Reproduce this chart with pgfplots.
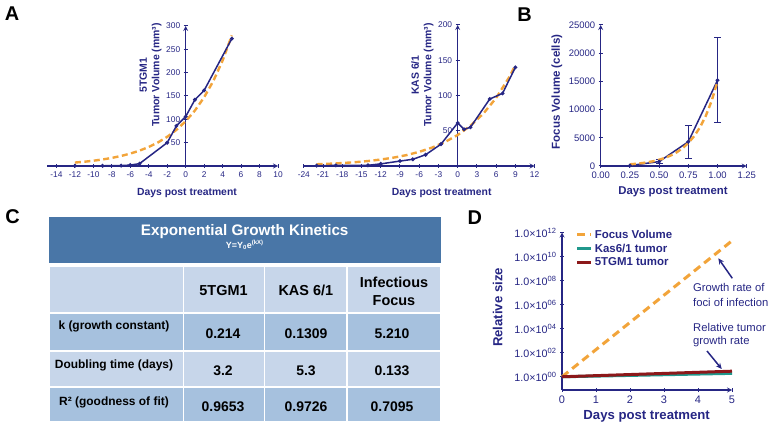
\documentclass[border=0pt]{standalone}
\usepackage{fontspec}
\setmainfont{Liberation Sans}
\usepackage{pgfplots}
\pgfplotsset{compat=1.18}
\usetikzlibrary{arrows.meta}
\definecolor{navy}{RGB}{38,38,132}
\definecolor{orng}{RGB}{242,164,58}
\definecolor{tealc}{RGB}{32,152,140}
\definecolor{dred}{RGB}{140,24,26}
\definecolor{hdr}{RGB}{73,118,167}
\definecolor{rowL}{RGB}{199,214,234}
\definecolor{rowD}{RGB}{166,193,222}
\pgfplotsset{
  gp/.style={scale only axis, clip=false,
    axis line style={navy, line width=1.2bp, -},
    tick style={navy, line width=1bp},
    major tick length=4bp, minor tick length=2.5bp, tick align=outside,
    ticklabel style={navy},
    /pgf/number format/assume math mode=true,
    scaled ticks=false,
    every axis label/.append style={text=navy},
  },
  fitd/.style={orng, line width=2.4bp, dash pattern=on 6bp off 3.5bp},
  datl/.style={navy, line width=1.5bp, mark=*, mark size=1.1bp},
}
\begin{document}
\begin{tikzpicture}[x=1bp,y=1bp]
\path[use as bounding box] (0,0) rectangle (776,432);

% ---------------- Panel A left: 5TGM1
\begin{axis}[gp, at={(47.2bp,266bp)}, anchor=south west, width=230.8bp, height=140bp,
  xmin=-15, xmax=10, ymin=0, ymax=300, axis lines=middle,
  hide obscured x ticks=false, hide obscured y ticks=false,
  xtick={-14,-12,...,10}, ytick={50,100,...,300},
  xticklabel style={font=\fontsize{8.4}{10}\selectfont, text=navy},
  yticklabel style={font=\fontsize{8.4}{10}\selectfont, text=navy},
  xlabel={Days post treatment},
  xlabel style={at={(axis description cs:0.6057,-0.19)}, anchor=center, font=\fontsize{10.4}{12}\selectfont\bfseries},
  ylabel={5TGM1\\Tumor Volume (mm³)},
  ylabel style={at={(axis description cs:0.4476,0.65)}, rotate=90, anchor=center, align=center, font=\fontsize{10.5}{12.5}\selectfont\bfseries}]
\addplot[fitd] coordinates {(-12,7.36) (-11,9.1) (-10,11.3) (-9,14.0) (-8,17.3) (-7,21.5) (-6,26.6) (-5,32.9) (-4,40.8) (-3,50.5) (-2,62.6) (-1,77.5) (0,96) (1,118.9) (2,147.3) (3,182.4) (4,226.0) (5,279.9)};
\addplot[datl] coordinates {(-12,0.5) (-9,0.5) (-7,0.8) (-6,2) (-5,5) (-2,50) (-1,86) (0,106) (1,142) (2,162) (5,273)};
\end{axis}

% ---------------- Panel A right: KAS 6/1
\begin{axis}[gp, at={(303.8bp,266bp)}, anchor=south west, width=230.8bp, height=141bp,
  xmin=-24, xmax=12, ymin=0, ymax=200, axis lines=middle,
  hide obscured x ticks=false, hide obscured y ticks=false,
  xtick={-24,-21,...,12}, ytick={50,100,...,200},
  xticklabel style={font=\fontsize{8.4}{10}\selectfont, text=navy},
  yticklabel style={font=\fontsize{8.4}{10}\selectfont, text=navy},
  xlabel={Days post treatment},
  xlabel style={at={(axis description cs:0.5975,-0.19)}, anchor=center, font=\fontsize{10.4}{12}\selectfont\bfseries},
  ylabel={KAS 6/1\\Tumor Volume (mm³)},
  ylabel style={at={(axis description cs:0.514,0.645)}, rotate=90, anchor=center, align=center, font=\fontsize{10.5}{12.5}\selectfont\bfseries}]
\addplot[fitd] coordinates {(-22,2.47) (-20,3.21) (-18,4.17) (-16,5.42) (-14,7.04) (-12,9.15) (-10,11.9) (-8,15.4) (-6,20.1) (-4,26.1) (-2,33.9) (0,44) (2,57.2) (4,74.3) (6,96.5) (8,125.4) (9,142.9)};
\addplot[datl] coordinates {(-22,0.5) (-19,0.8) (-14,1) (-12,3) (-9,7) (-7,9.5) (-5,16) (-2.6,31) (0,61) (1,52) (2,55) (5,95) (7,103) (9,140)};
\end{axis}

% ---------------- Panel B: focus volume
\begin{axis}[gp, at={(600.7bp,266bp)}, anchor=south west, width=146bp, height=141bp,
  xmin=0, xmax=1.25, ymin=0, ymax=25000, axis x line=bottom, axis y line=left,
  xtick={0,0.25,0.5,0.75,1,1.25}, xticklabels={0.00,0.25,0.50,0.75,1.00,1.25},
  ytick={0,5000,10000,15000,20000,25000}, yticklabels={0,5000,10000,15000,20000,25000},
  ticklabel style={font=\fontsize{9.5}{11}\selectfont},
  xlabel={Days post treatment},
  xlabel style={at={(axis description cs:0.495,-0.184)}, anchor=center, font=\fontsize{11.4}{13}\selectfont\bfseries},
  ylabel={Focus Volume (cells)},
  ylabel style={at={(axis description cs:-0.30,0.525)}, rotate=0, anchor=center, font=\fontsize{11.6}{13}\selectfont\bfseries}]
\addplot[datl, error bars/.cd, y dir=both, y explicit,
  error bar style={navy, line width=0.9bp},
  error mark options={rotate=90, mark size=3.5bp, navy, line width=0.9bp}]
  coordinates {(0.25,80) +- (0,40) (0.5,780) +- (0,350) (0.75,4300) +- (0,2950) (1.0,15200) +- (0,7550)};
\addplot[fitd] coordinates {(0.25,301) (0.3,391) (0.35,507) (0.4,658) (0.45,854) (0.5,1108) (0.55,1438) (0.6,1866) (0.65,2421) (0.7,3142) (0.75,4076) (0.8,5291) (0.85,6863) (0.9,8905) (0.95,11557) (1.0,15000)};
\end{axis}

% ---------------- Panel D: relative size
\begin{axis}[gp, at={(562bp,42bp)}, anchor=south west, width=170bp, height=157.5bp,
  xmin=0, xmax=5, ymode=log, ymin=0.0794, ymax=1e12,
  axis x line=bottom, axis y line=left,
  xtick={0,1,2,3,4,5},
  ytick={1,1e2,1e4,1e6,1e8,1e10,1e12},
  yticklabels={1.0×10\textsuperscript{00},1.0×10\textsuperscript{02},1.0×10\textsuperscript{04},1.0×10\textsuperscript{06},1.0×10\textsuperscript{08},1.0×10\textsuperscript{10},1.0×10\textsuperscript{12}},
  minor ytick={1e-1,1e1,1e3,1e5,1e7,1e9,1e11},
  xticklabel style={font=\fontsize{11}{12}\selectfont},
  yticklabel style={font=\fontsize{10.8}{12}\selectfont},
  xlabel={Days post treatment},
  xlabel style={at={(axis description cs:0.498,-0.17)}, anchor=center, font=\fontsize{13.2}{15}\selectfont\bfseries},
  ylabel={Relative size},
  ylabel style={at={(axis description cs:-0.379,0.524)}, rotate=0, anchor=center, font=\fontsize{13.2}{15}\selectfont\bfseries},
  legend style={at={(0.08,1.03)}, anchor=north west, draw=none, fill=none,
    font=\fontsize{11.5}{13}\selectfont\bfseries, text=navy, inner sep=0pt,
    /tikz/every even column/.append style={column sep=4bp}},
  legend cell align=left,
  legend image code/.code={\draw[#1] (0bp,0bp) -- (14bp,0bp);}]
\addplot[orng, line width=3bp, dash pattern=on 8bp off 5bp] coordinates {(0,1) (5,2.05e11)};
\addlegendentry{Focus Volume}
\addplot[tealc, line width=3bp] coordinates {(0,1) (5,1.925)};
\addlegendentry{Kas6/1 tumor}
\addplot[dred, line width=3bp] coordinates {(0,1) (5,2.915)};
\addlegendentry{5TGM1 tumor}
\end{axis}

% annotations panel D
\draw[navy, line width=1.5bp, -{Stealth[length=6bp,width=5.5bp]}] (732.3,153.7) -- (718.3,173.7);
\draw[navy, line width=1.5bp, -{Stealth[length=6bp,width=5.5bp]}] (707,81) -- (721.7,63);
\begin{scope}[every node/.style={text=navy, font=\fontsize{11.3}{13}\selectfont, inner sep=0pt, anchor=base west}]
\node at (693,140.3) {Growth rate of};
\node at (693,125.3) {foci of infection};
\node at (693,101) {Relative tumor};
\node at (693,88) {growth rate};
\end{scope}

% ---------------- Panel C table
\fill[hdr] (49,215) rectangle (440.5,168.7);
\node[text=white, font=\fontsize{15.3}{17}\selectfont\bfseries] at (244.7,200.5) {Exponential Growth Kinetics};
\node[text=white, font=\fontsize{9}{10}\selectfont\bfseries] at (244.7,187) {Y=Y\textsubscript{0}e\textsuperscript{(kX)}};
\begin{scope}[every path/.style={draw=white, line width=1.6bp}]
\path[fill=rowL] (49,166.3) rectangle (183.3,119.3);
\path[fill=rowL] (183.3,166.3) rectangle (264.4,119.3);
\path[fill=rowL] (264.4,166.3) rectangle (347.2,119.3);
\path[fill=rowL] (347.2,166.3) rectangle (440.5,119.3);
\path[fill=rowD] (49,119.3) rectangle (183.3,81);
\path[fill=rowD] (183.3,119.3) rectangle (264.4,81);
\path[fill=rowD] (264.4,119.3) rectangle (347.2,81);
\path[fill=rowD] (347.2,119.3) rectangle (440.5,81);
\path[fill=rowL] (49,81) rectangle (183.3,45.3);
\path[fill=rowL] (183.3,81) rectangle (264.4,45.3);
\path[fill=rowL] (264.4,81) rectangle (347.2,45.3);
\path[fill=rowL] (347.2,81) rectangle (440.5,45.3);
\path[fill=rowD] (49,45.3) rectangle (183.3,10);
\path[fill=rowD] (183.3,45.3) rectangle (264.4,10);
\path[fill=rowD] (264.4,45.3) rectangle (347.2,10);
\path[fill=rowD] (347.2,45.3) rectangle (440.5,10);
\end{scope}
\begin{scope}[every node/.style={inner sep=0pt, font=\fontsize{14.5}{18}\selectfont\bfseries, align=center}]
\node at (223.5,141.1) {5TGM1};
\node at (305.8,141.1) {KAS 6/1};
\node at (394,141) {Infectious\\Focus};
\end{scope}
\begin{scope}[every node/.style={inner sep=0pt, font=\fontsize{12}{14}\selectfont\bfseries, text height=8.6bp, text depth=0bp}]
\node at (114,107.3) {k (growth constant)};
\node at (114,68) {Doubling time (days)};
\node at (114,31) {R² (goodness of fit)};
\end{scope}
\begin{scope}[every node/.style={inner sep=0pt, font=\fontsize{14}{16}\selectfont\bfseries, text height=10bp, text depth=0bp}]
\node at (223,99) {0.214};
\node at (306,99) {0.1309};
\node at (392,99) {5.210};
\node at (223,61.6) {3.2};
\node at (306,61.6) {5.3};
\node at (392,61.6) {0.133};
\node at (223,25.5) {0.9653};
\node at (306,25.5) {0.9726};
\node at (392,25.5) {0.7095};
\end{scope}

% panel letters
\begin{scope}[every node/.style={font=\fontsize{20}{22}\selectfont\bfseries, inner sep=0pt}]
\node at (12,418.5) {A};
\node at (524.5,417) {B};
\node at (12.5,215) {C};
\node at (474.7,214) {D};
\end{scope}
\end{tikzpicture}
\end{document}
